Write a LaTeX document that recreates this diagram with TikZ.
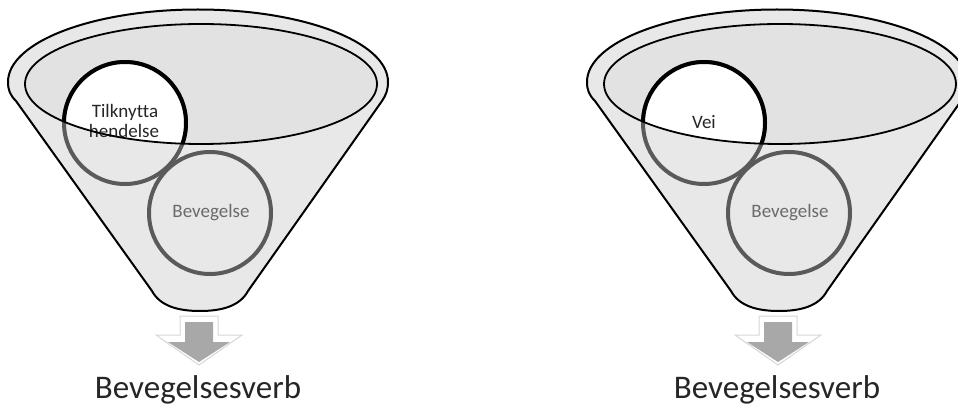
\documentclass[tikz,border=0pt]{standalone}
\usepackage{fontspec}
\setmainfont[Ligatures=NoCommon]{Carlito}
\definecolor{bodyfill}{HTML}{E8E8E8}
\definecolor{innerfill}{HTML}{E2E2E2}
\definecolor{ringgrey}{HTML}{5A5A5A}
\definecolor{labgrey}{HTML}{6A6A6A}
\definecolor{arrowedge}{HTML}{D6D6D6}
\definecolor{arrowgrey}{HTML}{A8A8A8}
\definecolor{txtdark}{HTML}{262626}
\tikzset{
  funnelbody/.style={fill=bodyfill, draw=black, line width=2pt, line join=round},
  innerell/.style={fill=innerfill},
  inneredge/.style={draw=black, line width=1.8pt},
  greyring/.style={draw=ringgrey, line width=4pt},
  blackring/.style={draw=black, line width=4pt},
  arrowout/.style={fill=white, draw=arrowedge, line width=1pt},
  arrowin/.style={fill=arrowgrey},
  smalltxt/.style={font=\fontsize{19}{20}\selectfont, text=txtdark, align=center, inner sep=0pt},
  greytxt/.style={font=\fontsize{19}{20}\selectfont, text=labgrey, inner sep=0pt},
  bigtxt/.style={font=\fontsize{33}{36}\selectfont, text=txtdark, inner sep=0pt, anchor=base}
}
\newcommand\drawfunnel[2]{%
  % funnel body
  \path[funnelbody] (8,82) arc[start angle=180, end angle=360, x radius=190, y radius=72.5]
    .. controls (388,90) and (386,95) .. (382,101) -- (248,291)
    .. controls (240,306) and (222,311) .. (200,311)
    .. controls (178,311) and (160,306) .. (152,291) -- (16,101)
    .. controls (10,95) and (8,90) .. (8,82) -- cycle;
  % inner opening
  \path[innerell] (201,84) ellipse[x radius=176, y radius=60];
  % grey rings
  \path[greyring] (125,123) circle[radius=61];
  \path[greyring] (210,213) circle[radius=61];
  % part of ring 1 inside the opening
  \begin{scope}
    \clip (201,84) ellipse[x radius=176, y radius=60];
    \fill[white] (125,123) circle[radius=61];
    \path[blackring] (125,123) circle[radius=61];
  \end{scope}
  #1
  \node[greytxt, anchor=base] (bev#2) at (211,218) {Bevegelse};
  \path[inneredge] (201,84) ellipse[x radius=176, y radius=60];
  % arrow
  \path[arrowout] (180,316) -- (218,316) -- (218,335) -- (242,335) -- (199,365)
    -- (156,335) -- (180,335) -- cycle;
  \path[arrowin] (185,322) -- (213,322) -- (213,342) -- (230,342) -- (199,362)
    -- (168,342) -- (185,342) -- cycle;
  \node[bigtxt] (verb#2) at (198,398) {Bevegelsesverb};
}
\begin{document}
\begin{tikzpicture}[x=1pt, y=-1pt]
\useasboundingbox (0,0) rectangle (958,406);
\clip (0,0) rectangle (958,406);
\drawfunnel{\node[smalltxt, anchor=base] (tilk) at (125,118) {Tilknytta};
  \node[smalltxt, anchor=base] (hend) at (124,138) {hendelse};}{L}
\begin{scope}[shift={(579,0)}]
\drawfunnel{\node[smalltxt, anchor=base] (vei) at (125,129) {Vei};}{R}
\end{scope}
\end{tikzpicture}
\end{document}
